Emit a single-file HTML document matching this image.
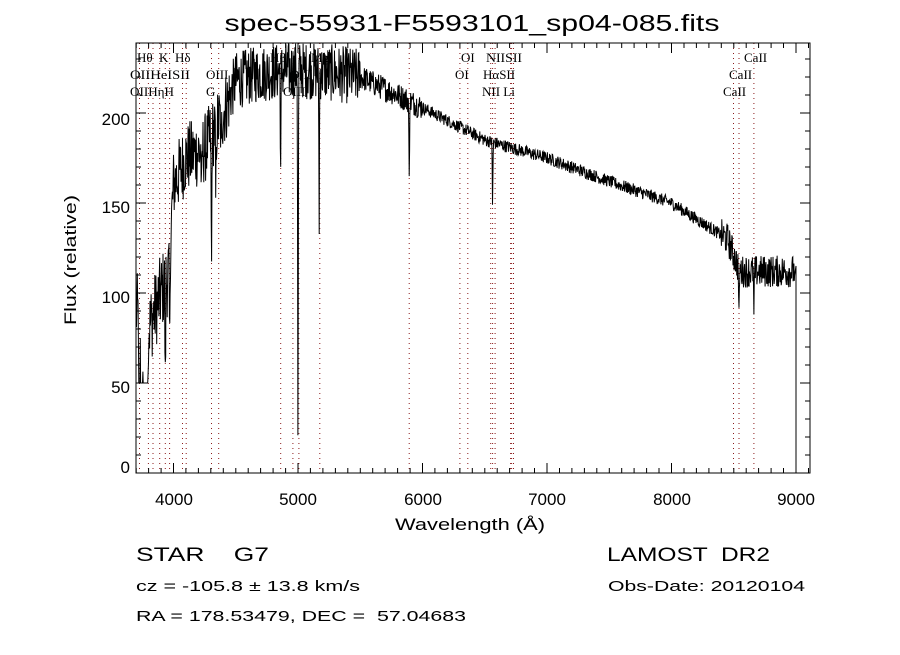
<!DOCTYPE html>
<html><head><meta charset="utf-8"><style>
body{margin:0;background:#fff;}
svg text{font-family:"Liberation Sans",sans-serif;fill:#000;white-space:pre;}
svg text.s{font-family:"Liberation Serif",serif;font-size:13px;}
</style></head><body>
<svg id="c" width="900" height="650" viewBox="0 0 900 650" xmlns="http://www.w3.org/2000/svg">
<rect width="900" height="650" fill="#fff"/>
<text x="472" y="31" font-size="23" text-anchor="middle" textLength="495" lengthAdjust="spacingAndGlyphs">spec-55931-F5593101_sp04-085.fits</text>
<g id="lines"></g>
<g id="ticks" stroke="#000" stroke-width="1"></g>
<path id="spec" fill="none" stroke="#000" stroke-width="1"/>
<rect x="136" y="43" width="674" height="430" fill="none" stroke="#000" stroke-width="1"/>
<g font-size="17">
<text x="130" y="473" text-anchor="end">0</text>
<text x="130" y="393" text-anchor="end">50</text>
<text x="130" y="303" text-anchor="end">100</text>
<text x="130" y="213" text-anchor="end">150</text>
<text x="130" y="125" text-anchor="end">200</text>
<text x="174" y="505" text-anchor="middle">4000</text>
<text x="298" y="505" text-anchor="middle">5000</text>
<text x="423" y="505" text-anchor="middle">6000</text>
<text x="547" y="505" text-anchor="middle">7000</text>
<text x="672" y="505" text-anchor="middle">8000</text>
<text x="796" y="505" text-anchor="middle">9000</text>
</g>
<text x="470" y="530" font-size="17" text-anchor="middle" textLength="150" lengthAdjust="spacingAndGlyphs">Wavelength (Å)</text>
<text transform="translate(76,260) rotate(-90)" font-size="17" text-anchor="middle" textLength="130" lengthAdjust="spacingAndGlyphs">Flux (relative)</text>
<g>
<text class="s" x="137" y="62">Hθ</text><text class="s" x="159" y="62">K</text><text class="s" x="175" y="62">Hδ</text>
<text class="s" x="270" y="62">Hβ</text><text class="s" x="311" y="62">Mg</text>
<text class="s" x="461" y="62">OI</text><text class="s" x="486" y="62" textLength="36" lengthAdjust="spacingAndGlyphs">NIISII</text><text class="s" x="744" y="62">CaII</text>
<text class="s" x="130" y="79" textLength="60" lengthAdjust="spacingAndGlyphs">OIIHeISII</text><text class="s" x="206" y="79">OIII</text><text class="s" x="290" y="79">OIII</text>
<text class="s" x="455" y="79">OI</text><text class="s" x="483" y="79">HαSII</text><text class="s" x="729" y="79">CaII</text>
<text class="s" x="130" y="96" textLength="44" lengthAdjust="spacingAndGlyphs">OIIHηH</text><text class="s" x="206" y="96">G</text><text class="s" x="283" y="96">OIII</text>
<text class="s" x="482" y="96">NII Li</text><text class="s" x="723" y="96">CaII</text>
</g>
<g font-size="19">
<text x="136" y="561" textLength="133" lengthAdjust="spacingAndGlyphs">STAR    G7</text>
<text x="607" y="561" textLength="163" lengthAdjust="spacingAndGlyphs">LAMOST  DR2</text>
</g>
<g font-size="15">
<text x="136" y="591" textLength="224" lengthAdjust="spacingAndGlyphs">cz = -105.8 ± 13.8 km/s</text>
<text x="608" y="591" textLength="197" lengthAdjust="spacingAndGlyphs">Obs-Date: 20120104</text>
<text x="136" y="621" textLength="330" lengthAdjust="spacingAndGlyphs">RA = 178.53479, DEC =  57.04683</text>
</g>
</svg>
<script>
var X=function(l){return 173.5+(l-4000)*0.1245;},Y=function(f){return 473-f*1.8;};
var L=[3727,3798,3835,3889,3934,3969,4072,4102,4305,4363,4861,4959,5007,5175,5893,6300,6364,6548,6563,6583,6708,6716,6731,8498,8542,8662];
var g=document.getElementById('lines'),h='';
L.forEach(function(l){var x=X(l).toFixed(1);h+='<line x1="'+x+'" y1="43" x2="'+x+'" y2="473" stroke="#8b1a1a" stroke-width="1" stroke-dasharray="1,4"/>';});
g.innerHTML=h;
var t='';
for(var l=3700;l<=9100;l+=100){var x=X(l).toFixed(1),m=(l%1000==0)?10:5;t+='M'+x+' 473v-'+m+'M'+x+' 43v'+m;}
for(var f=0;f<=239;f+=10){var y=Y(f).toFixed(1),m=(f%50==0)?10:5;t+='M136 '+y+'h'+m+'M810 '+y+'h-'+m;}
document.getElementById('ticks').innerHTML='<path d="'+t+'"/>';
var A=[[3700,90],[3800,80],[3900,100],[3960,110],[4000,160],[4100,175],[4250,180],[4400,200],[4500,218],[4700,222],[5000,224],[5300,222],[5500,220],[5800,210],[6000,203],[6500,185],[7000,175],[7500,162],[8000,150],[8450,130],[8550,112],[9000,112]];
function base(l){for(var i=0;i<A.length-1;i++){if(l<=A[i+1][0]){var a=A[i],b=A[i+1];return a[1]+(b[1]-a[1])*(l-a[0])/(b[0]-a[0]);}}return 115;}
var D=[[3934,60],[3969,55],[4305,75],[4340,40],[4861,55],[5000,210],[5170,80],[5893,45],[6563,35],[8542,30],[8662,25],[4226,30],[4383,25]];
var s=12345;function r(){s=(s*1103515245+12345)%2147483648;return s/2147483648;}
var d='',first=true;
for(var l=3700;l<=8990;l+=3){
 var amp=l<4000?22:l<4450?20:l<5500?16:l<6000?7:l<8400?3.5:9;
 var f=base(l)+(r()-0.5)*amp*2;
 D.forEach(function(q){var w=6;var dd=Math.abs(l-q[0]);if(dd<w)f-=q[1]*(dd<1.6?1:(1-dd/w));});
 if(l>3720&&l<3800)f=Math.min(f,50+(r()<0.3?r()*40:0));
 f=Math.min(Math.max(f,2),240);
 d+=(first?'M':'L')+X(l).toFixed(1)+' '+Y(f).toFixed(1);first=false;
}
d+='L'+X(9000).toFixed(1)+' '+Y(115)+'L'+X(9000).toFixed(1)+' '+Y(2);
document.getElementById('spec').setAttribute('d',d);
</script>
</body></html>
